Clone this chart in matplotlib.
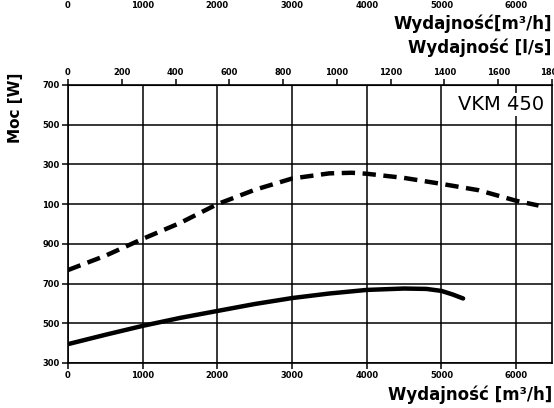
import matplotlib.pyplot as plt

# odczyt z wykresu VKM 450
q_solid = [0, 500, 1000, 1500, 2000, 2500, 3000, 3500, 4000, 4500, 4800, 5000, 5150, 5290]
p_solid = [395, 442, 487, 527, 562, 597, 627, 650, 668, 675, 673, 663, 645, 625]

q_dash = [0, 500, 1000, 1500, 2000, 2500, 3000, 3500, 3800, 4000, 4500, 5000, 5500, 6000, 6300]
p_dash = [768, 840, 925, 1005, 1100, 1172, 1229, 1255, 1258, 1253, 1232, 1202, 1170, 1117, 1093]

x_ticks = [0, 1000, 2000, 3000, 4000, 5000, 6000]
ls_ticks = [0, 200, 400, 600, 800, 1000, 1200, 1400, 1600, 1800]
y_ticks = [300, 500, 700, 900, 1100, 1300, 1500, 1700]
y_labels = ['300', '500', '700', '900', '100', '300', '500', '700']

fam = ['Liberation Sans Narrow', 'DejaVu Sans']
plt.rcParams['font.family'] = fam

fig = plt.figure(figsize=(5.54, 4.08), dpi=100)
ax = fig.add_axes([0.1227, 0.1103, 0.8737, 0.6814])

ax.plot(q_solid, p_solid, color='black', linewidth=3.2, solid_capstyle='round', zorder=3)
ax.plot(q_dash, p_dash, color='black', linewidth=3.2, linestyle='--', dashes=(3, 1.7), zorder=3)

ax.set_xlim(0, 6480)
ax.set_ylim(300, 1700)
ax.set_xticks(x_ticks)
ax.set_xticklabels([str(v) for v in x_ticks], fontsize=6, fontweight='bold')
ax.set_yticks(y_ticks)
ax.set_yticklabels(y_labels, fontsize=6, fontweight='bold')
ax.grid(True, color='black', linewidth=1.1)
ax.set_axisbelow(True)
ax.tick_params(which='both', direction='out', length=4, width=1.1, pad=2)
for s in ax.spines.values():
    s.set_linewidth(1.2)

# górna oś l/s
sec = ax.secondary_xaxis('top', functions=(lambda q: q / 3.6, lambda v: v * 3.6))
sec.set_xticks(ls_ticks)
sec.set_xticklabels([str(v) for v in ls_ticks], fontsize=6, fontweight='bold')
sec.tick_params(direction='out', length=4, width=1.1, pad=2)

# górna oś m3/h
sec2 = ax.secondary_xaxis(1.265)
sec2.set_xticks(x_ticks)
sec2.set_xticklabels([str(v) for v in x_ticks], fontsize=6, fontweight='bold')
sec2.tick_params(length=0, pad=1)
sec2.spines['top'].set_visible(False)

fig.text(0.996, 0.943, 'Wydajność[m³/h]', ha='right', va='center',
         fontsize=12, fontweight='bold')
fig.text(0.996, 0.884, 'Wydajność [l/s]', ha='right', va='center',
         fontsize=12, fontweight='bold')
fig.text(0.996, 0.032, 'Wydajność [m³/h]', ha='right', va='center',
         fontsize=12, fontweight='bold')
fig.text(0.028, 0.735, 'Moc [W]', rotation=90, ha='center', va='center',
         fontsize=11, fontweight='bold')

ax.text(0.983, 0.965, 'VKM 450', transform=ax.transAxes, ha='right', va='top',
        fontsize=14, zorder=4,
        bbox=dict(facecolor='white', edgecolor='none', pad=1.5))

fig.savefig('out.png', dpi=100)
